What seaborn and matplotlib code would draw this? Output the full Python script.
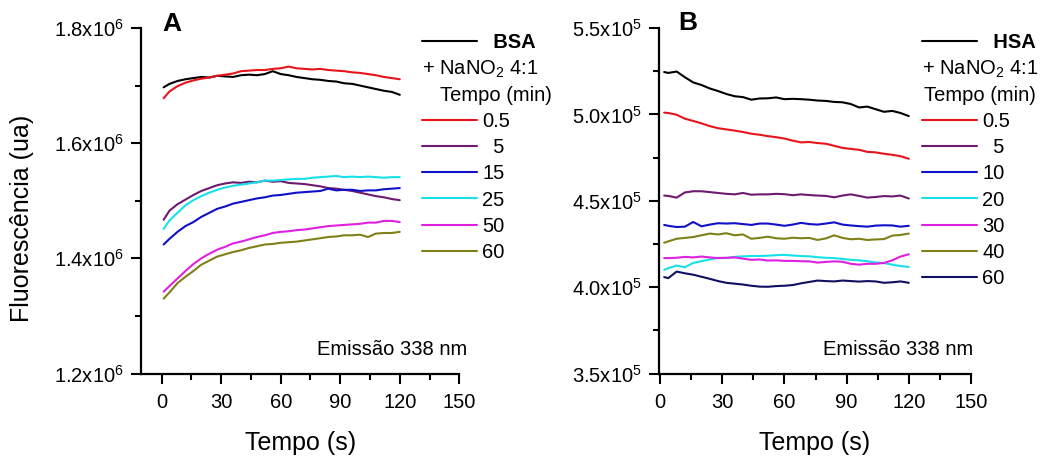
import matplotlib
matplotlib.use("Agg")
import matplotlib.pyplot as plt
import seaborn as sns
import numpy as np
import pandas as pd
from matplotlib.ticker import FuncFormatter, MultipleLocator
from matplotlib.lines import Line2D

# ---------------- data ----------------
t_a = [1, 4, 8, 12, 16, 20, 24, 28, 32, 36, 40, 44, 48, 52, 56, 60, 64, 68, 72, 76,
       80, 84, 88, 92, 96, 100, 104, 108, 112, 116, 120]
t_b = [2, 4, 8, 12, 16, 20, 24, 28, 32, 36, 40, 44, 48, 52, 56, 60, 64, 68, 72, 76,
       80, 84, 88, 92, 96, 100, 104, 108, 112, 116, 120]

# Panel A (x10^6)
bsa = [1.697, 1.703, 1.708, 1.711, 1.713, 1.715, 1.714, 1.717, 1.716, 1.715, 1.718, 1.719,
       1.718, 1.720, 1.725, 1.720, 1.718, 1.715, 1.713, 1.711, 1.710, 1.708, 1.707, 1.704,
       1.703, 1.700, 1.697, 1.694, 1.691, 1.689, 1.684]
a_05 = [1.678, 1.690, 1.699, 1.705, 1.709, 1.712, 1.714, 1.717, 1.719, 1.721, 1.725, 1.726,
        1.727, 1.727, 1.729, 1.730, 1.733, 1.730, 1.729, 1.728, 1.729, 1.727, 1.726, 1.725,
        1.723, 1.722, 1.720, 1.718, 1.715, 1.713, 1.711]
a_5 = [1.467, 1.483, 1.494, 1.502, 1.510, 1.517, 1.522, 1.527, 1.530, 1.532, 1.531, 1.533,
       1.532, 1.535, 1.533, 1.534, 1.531, 1.530, 1.529, 1.527, 1.525, 1.522, 1.521, 1.519,
       1.517, 1.514, 1.511, 1.508, 1.506, 1.503, 1.501]
a_15 = [1.424, 1.434, 1.446, 1.456, 1.463, 1.472, 1.479, 1.486, 1.490, 1.495, 1.498, 1.501,
        1.504, 1.506, 1.509, 1.510, 1.512, 1.514, 1.515, 1.516, 1.517, 1.521, 1.518, 1.519,
        1.519, 1.517, 1.518, 1.518, 1.520, 1.521, 1.522]
a_25 = [1.451, 1.466, 1.479, 1.492, 1.501, 1.508, 1.514, 1.519, 1.523, 1.526, 1.528, 1.530,
        1.532, 1.535, 1.535, 1.536, 1.537, 1.538, 1.538, 1.540, 1.541, 1.542, 1.543, 1.541,
        1.542, 1.541, 1.542, 1.541, 1.540, 1.541, 1.541]
a_50 = [1.342, 1.352, 1.365, 1.378, 1.390, 1.400, 1.408, 1.415, 1.420, 1.426, 1.429, 1.433,
        1.437, 1.440, 1.444, 1.446, 1.447, 1.449, 1.450, 1.452, 1.454, 1.456, 1.457, 1.458,
        1.459, 1.460, 1.462, 1.462, 1.465, 1.465, 1.463]
a_60 = [1.330, 1.341, 1.357, 1.368, 1.378, 1.389, 1.396, 1.403, 1.407, 1.411, 1.414, 1.418,
        1.421, 1.424, 1.425, 1.427, 1.428, 1.429, 1.431, 1.433, 1.435, 1.437, 1.438, 1.440,
        1.440, 1.441, 1.437, 1.443, 1.444, 1.444, 1.446]

# Panel B (x10^5)
hsa = [5.245, 5.240, 5.248, 5.215, 5.185, 5.170, 5.150, 5.135, 5.118, 5.105, 5.100, 5.085,
       5.092, 5.093, 5.098, 5.088, 5.090, 5.088, 5.085, 5.080, 5.078, 5.072, 5.070, 5.060,
       5.040, 5.045, 5.030, 5.015, 5.020, 5.008, 4.990]
b_05 = [5.010, 5.008, 4.998, 4.975, 4.962, 4.948, 4.932, 4.920, 4.913, 4.906, 4.898, 4.888,
        4.882, 4.874, 4.868, 4.860, 4.848, 4.838, 4.840, 4.834, 4.830, 4.818, 4.806, 4.800,
        4.795, 4.783, 4.780, 4.772, 4.766, 4.758, 4.743]
b_5 = [4.530, 4.528, 4.518, 4.548, 4.555, 4.555, 4.550, 4.545, 4.540, 4.537, 4.545, 4.535,
       4.537, 4.537, 4.540, 4.538, 4.532, 4.537, 4.533, 4.530, 4.528, 4.520, 4.530, 4.537,
       4.528, 4.518, 4.522, 4.527, 4.525, 4.530, 4.513]
b_10 = [4.360, 4.355, 4.348, 4.350, 4.377, 4.352, 4.362, 4.370, 4.368, 4.370, 4.365, 4.360,
        4.368, 4.368, 4.362, 4.355, 4.362, 4.372, 4.365, 4.362, 4.368, 4.375, 4.362, 4.357,
        4.353, 4.350, 4.356, 4.358, 4.357, 4.350, 4.355]
b_20 = [4.100, 4.110, 4.125, 4.115, 4.140, 4.150, 4.160, 4.170, 4.168, 4.175, 4.178, 4.180,
        4.180, 4.182, 4.185, 4.187, 4.183, 4.180, 4.178, 4.173, 4.170, 4.168, 4.163, 4.158,
        4.155, 4.150, 4.143, 4.139, 4.130, 4.122, 4.117]
b_30 = [4.168, 4.168, 4.170, 4.175, 4.172, 4.177, 4.172, 4.168, 4.170, 4.172, 4.165, 4.158,
        4.160, 4.154, 4.155, 4.152, 4.152, 4.150, 4.149, 4.142, 4.146, 4.149, 4.147, 4.135,
        4.130, 4.135, 4.135, 4.140, 4.155, 4.177, 4.190]
b_40 = [4.257, 4.265, 4.280, 4.285, 4.290, 4.300, 4.310, 4.305, 4.312, 4.300, 4.305, 4.280,
        4.285, 4.292, 4.283, 4.280, 4.286, 4.283, 4.285, 4.273, 4.282, 4.300, 4.285, 4.277,
        4.280, 4.273, 4.276, 4.278, 4.298, 4.302, 4.310]
b_60 = [4.058, 4.052, 4.090, 4.080, 4.072, 4.060, 4.048, 4.035, 4.025, 4.020, 4.015, 4.008,
        4.003, 4.002, 4.006, 4.008, 4.012, 4.022, 4.030, 4.038, 4.035, 4.033, 4.038, 4.035,
        4.032, 4.035, 4.033, 4.025, 4.028, 4.033, 4.025]

labels_a = ["  BSA", "0.5", "  5", "15", "25", "50", "60"]
labels_b = ["  HSA", "0.5", "  5", "10", "20", "30", "40", "60"]
colors_a = ["#000000", "#e8141c", "#6e1a6e", "#1010c8", "#18e0e8", "#e020e0", "#808018"]
colors_b = ["#000000", "#e8141c", "#6e1a6e", "#1010c8", "#18e0e8", "#e020e0", "#808018", "#101060"]

series_a = [bsa, a_05, a_5, a_15, a_25, a_50, a_60]
series_b = [hsa, b_05, b_5, b_10, b_20, b_30, b_40, b_60]

# ---------------- style ----------------
sns.set_style("ticks")
plt.rcParams["font.family"] = ["Liberation Sans", "DejaVu Sans"]
plt.rcParams["mathtext.fontset"] = "custom"
plt.rcParams["mathtext.rm"] = "Liberation Sans"
plt.rcParams["mathtext.it"] = "Liberation Sans"
plt.rcParams["mathtext.bf"] = "Liberation Sans:bold"
for k in ["text.color", "axes.labelcolor", "xtick.color", "ytick.color", "axes.edgecolor"]:
    plt.rcParams[k] = "black"

W, H = 1047, 457
fig = plt.figure(figsize=(W / 100, H / 100), dpi=100)
fig.patch.set_facecolor("white")

def px_axes(left, right, top, bottom):
    return fig.add_axes([left / W, 1 - bottom / H, (right - left) / W, (bottom - top) / H])

axA = px_axes(141, 459.3, 28, 373.5)
axB = px_axes(659, 971, 28, 373.5)

TICK_FS = 14.5
LBL_FS = 18

def style_axis(ax):
    for s in ["top", "right"]:
        ax.spines[s].set_visible(False)
    for s in ["left", "bottom"]:
        ax.spines[s].set_linewidth(1.6)
        ax.spines[s].set_color("black")
    ax.tick_params(which="major", direction="out", length=7, width=1.5, labelsize=TICK_FS,
                   color="black", labelcolor="black", pad=5)
    ax.tick_params(which="minor", direction="out", length=4, width=1.5, color="black")
    ax.tick_params(axis="x", which="major", pad=7)
    ax.set_facecolor("white")
    ax.grid(False)

def draw(ax, t, series, colors, labels, scale):
    for vals, c, lab in zip(series, colors, labels):
        df = pd.DataFrame({"t": t, "v": np.array(vals) * scale})
        sns.lineplot(data=df, x="t", y="v", color=c, linewidth=1.5, ax=ax,
                     label=lab, legend=False)

draw(axA, t_a, series_a, colors_a, labels_a, 1e6)
draw(axB, t_b, series_b, colors_b, labels_b, 1e5)

for ax in (axA, axB):
    style_axis(ax)
    ax.xaxis.set_major_locator(MultipleLocator(30))
    ax.xaxis.set_minor_locator(MultipleLocator(15))
    ax.set_xlabel("Tempo (s)", fontsize=LBL_FS, color="black")
    ax.xaxis.set_label_coords(0.5, -0.165)

axA.set_xlim(-10.4, 150)
axA.set_ylim(1.2e6, 1.8e6)
axA.yaxis.set_major_locator(MultipleLocator(0.2e6))
axA.yaxis.set_minor_locator(MultipleLocator(0.1e6))
axA.yaxis.set_major_formatter(FuncFormatter(lambda v, p: f"{v/1e6:.1f}x10$^{{6}}$"))
axA.set_ylabel("Fluorescência (ua)", fontsize=LBL_FS, color="black")
axA.yaxis.set_label_coords(-0.335, 0.45)

axB.set_xlim(-0.5, 150)
axB.set_ylim(3.5e5, 5.5e5)
axB.yaxis.set_major_locator(MultipleLocator(0.5e5))
axB.yaxis.set_minor_locator(MultipleLocator(0.25e5))
axB.yaxis.set_major_formatter(FuncFormatter(lambda v, p: f"{v/1e5:.1f}x10$^{{5}}$"))
axB.set_ylabel("")

# panel letters and notes
axA.text(0.066, 0.99, "A", transform=axA.transAxes, fontsize=19, fontweight="bold",
         va="baseline", ha="left")
axB.text(0.062, 0.994, "B", transform=axB.transAxes, fontsize=19, fontweight="bold",
         va="baseline", ha="left")
axA.text(1.024, 0.054, "Emissão 338 nm", transform=axA.transAxes, fontsize=14.5,
         ha="right", va="baseline")
axB.text(1.008, 0.054, "Emissão 338 nm", transform=axB.transAxes, fontsize=14.5,
         ha="right", va="baseline")

LEG_FS = 14.5

def make_legend(ax, x_line, top_px, tempo_x):
    lines = list(ax.get_lines())
    blank = Line2D([], [], color="none")
    handles = [lines[0], blank, blank] + lines[1:]
    labs = [lines[0].get_label(), " ", " "] + [l.get_label() for l in lines[1:]]
    leg = ax.legend(handles, labs, loc="upper left",
                    bbox_to_anchor=(x_line / W, 1 - top_px / H),
                    bbox_transform=fig.transFigure, frameon=False, fontsize=LEG_FS,
                    handlelength=2.75, handletextpad=0.25, labelspacing=0.36,
                    borderpad=0, borderaxespad=0)
    for ln in leg.get_lines():
        ln.set_linewidth(1.5)
    for tx in leg.get_texts():
        tx.set_color("black")
    leg.get_texts()[0].set_fontweight("bold")
    fig.text(x_line / W, 1 - 69 / H, "+ NaNO$_2$ 4:1", fontsize=LEG_FS, va="center", ha="left")
    fig.text(tempo_x / W, 1 - 96 / H, "Tempo (min)", fontsize=LEG_FS, va="center", ha="left")
    return leg

make_legend(axA, 421.7, 33, 440)
make_legend(axB, 922, 33, 924)

fig.savefig("out.png", dpi=100, facecolor="white")
